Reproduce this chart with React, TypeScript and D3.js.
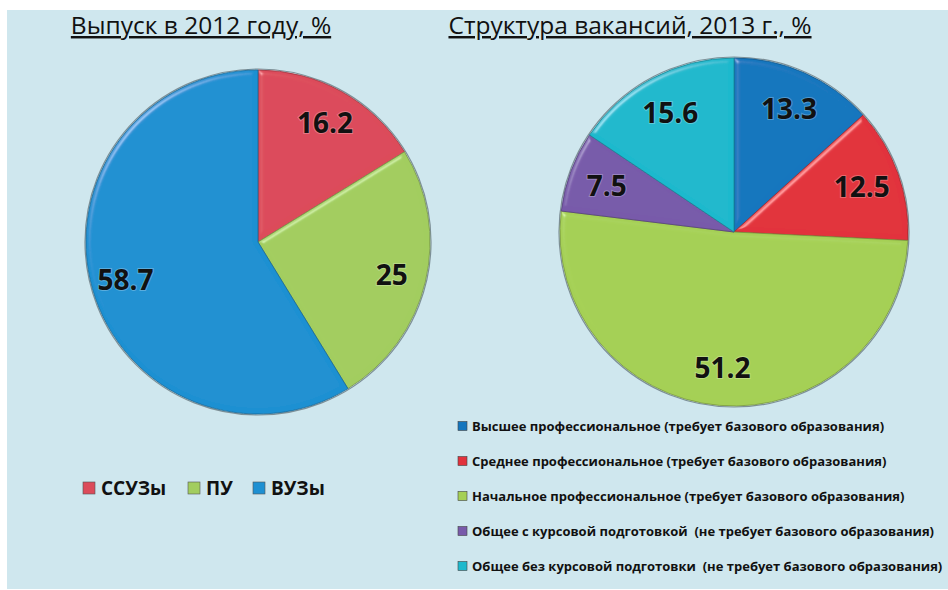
import React from "react";
import * as d3 from "d3";

const leftTitle = "Выпуск в 2012 году, %";
const rightTitle = "Структура вакансий, 2013 г., %";

const leftCategories = ["ССУЗы", "ПУ", "ВУЗы"];
const leftValues = [16.2, 25, 58.7];
const leftColors = ["#dc4b5a", "#a2cd5f", "#1e90d2"];

const rightCategories = [
  "Высшее профессиональное (требует базового образования)",
  "Среднее профессиональное (требует базового образования)",
  "Начальное профессиональное (требует базового образования)",
  "Общее с курсовой подготовкой  (не требует базового образования)",
  "Общее без курсовой подготовки  (не требует базового образования)",
];
const rightValues = [13.3, 12.5, 51.2, 7.5, 15.6];
const rightColors = ["#1476be", "#e2323c", "#a5d055", "#785aaa", "#1eb9cd"];

const W = 948;
const H = 590;
const FONT = "'Open Sans', 'Noto Sans', sans-serif";

type PieProps = {
  cx: number;
  cy: number;
  r: number;
  values: number[];
  colors: string[];
  labelRatio: number;
};

function Pie({ cx, cy, r, values, colors, labelRatio }: PieProps) {
  const pie = d3.pie<number>().sort(null).value((d) => d);
  const arcs = pie(values);
  const arc = d3.arc<d3.PieArcDatum<number>>().innerRadius(0).outerRadius(r);
  const labelArc = d3
    .arc<d3.PieArcDatum<number>>()
    .innerRadius(r * labelRatio)
    .outerRadius(r * labelRatio);
  return (
    <g transform={`translate(${cx},${cy})`}>
      <circle r={r + 1} fill="none" stroke="#5a6a70" strokeWidth={1.2} opacity={0.7} />
      {arcs.map((a, i) => (
        <g key={i}>
          <path d={arc(a) || ""} fill={colors[i]} filter={`url(#bevel)`} />
          <path
            d={arc(a) || ""}
            fill="none"
            stroke={d3.color(colors[i])!.darker(0.9).formatHex()}
            strokeWidth={0.8}
          />
        </g>
      ))}
      {arcs.map((a, i) => {
        const [lx, ly] = labelArc.centroid(a);
        return (
          <text
            key={"l" + i}
            x={lx}
            y={ly}
            textAnchor="middle"
            dominantBaseline="central"
            fontFamily={FONT}
            fontWeight={700}
            fontSize={28}
            fill="#111"
            style={{ paintOrder: "stroke" }}
            stroke="rgba(255,255,255,0.25)"
            strokeWidth={2}
          >
            {String(values[i])}
          </text>
        );
      })}
    </g>
  );
}

export default function App() {
  const leftLegendX = [83, 188, 253];
  return (
    <svg
      width={W}
      height={H}
      style={{ position: "absolute", left: 0, top: 0, background: "#ffffff" }}
    >
      <defs>
        <filter id="bevel" x="-5%" y="-5%" width="110%" height="110%">
          <feGaussianBlur in="SourceAlpha" stdDeviation="2.5" result="blur" />
          <feSpecularLighting
            in="blur"
            surfaceScale="3"
            specularConstant="0.6"
            specularExponent="40"
            lightingColor="#ffffff"
            result="spec"
          >
            <feDistantLight azimuth="225" elevation="35" />
          </feSpecularLighting>
          <feComposite in="spec" in2="SourceAlpha" operator="in" result="specOut" />
          <feComposite
            in="SourceGraphic"
            in2="specOut"
            operator="arithmetic"
            k1="0"
            k2="1"
            k3="0.45"
            k4="0"
          />
        </filter>
      </defs>
      <rect x={7} y={10} width={W - 7} height={579} fill="#cfe7ee" />

      <text
        x={201}
        y={34}
        textAnchor="middle"
        fontFamily={FONT}
        fontSize={24.5}
        fill="#111"
        textDecoration="underline"
      >
        {leftTitle}
      </text>
      <text
        x={630}
        y={34}
        textAnchor="middle"
        fontFamily={FONT}
        fontSize={24.5}
        fill="#111"
        textDecoration="underline"
      >
        {rightTitle}
      </text>

      <Pie cx={258} cy={242} r={172} values={leftValues} colors={leftColors} labelRatio={0.8} />
      <Pie cx={734} cy={232} r={174} values={rightValues} colors={rightColors} labelRatio={0.78} />

      {leftCategories.map((c, i) => (
        <g key={c} transform={`translate(${leftLegendX[i]},482)`}>
          <rect width={12} height={12} fill={leftColors[i]} stroke="#555" strokeWidth={0.6} />
          <text
            x={18}
            y={6}
            dominantBaseline="central"
            fontFamily={FONT}
            fontWeight={700}
            fontSize={19}
            fill="#111"
          >
            {c}
          </text>
        </g>
      ))}

      {rightCategories.map((c, i) => (
        <g key={c} transform={`translate(458,${426 + i * 35})`}>
          <rect x={0} y={-4.5} width={9} height={9} fill={rightColors[i]} stroke="#444" strokeWidth={0.6} />
          <text
            x={14}
            y={0}
            dominantBaseline="central"
            fontFamily={FONT}
            fontWeight={700}
            fontSize={13}
            fill="#111"
            style={{ whiteSpace: "pre" }}
          >
            {c}
          </text>
        </g>
      ))}
    </svg>
  );
}
